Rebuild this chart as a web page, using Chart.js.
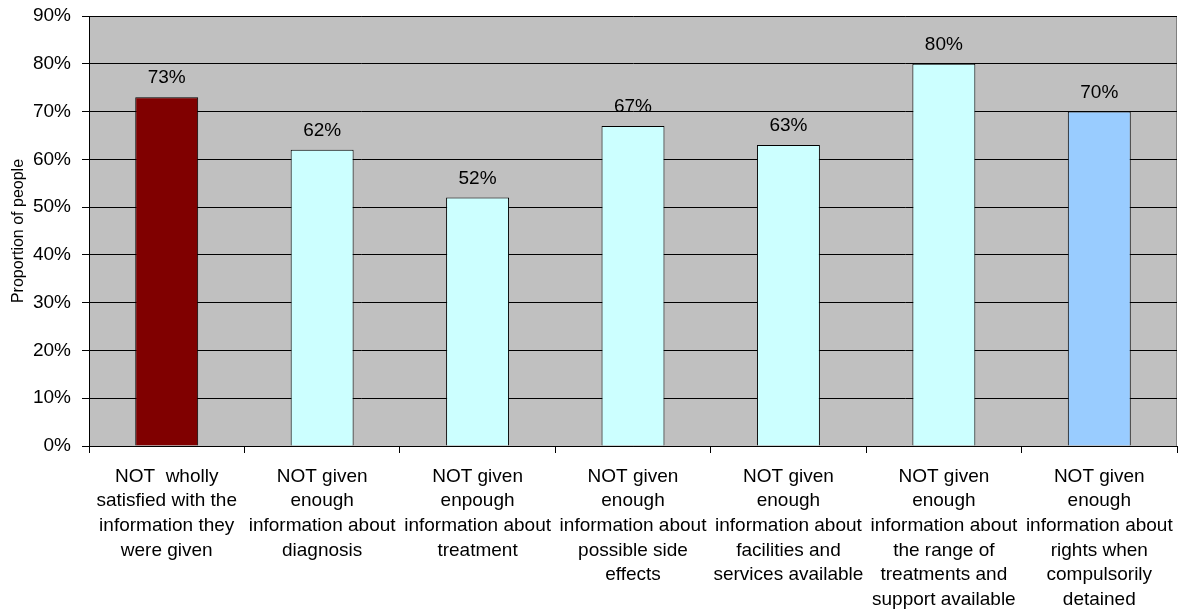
<!DOCTYPE html>
<html>
<head>
<meta charset="utf-8">
<script src="https://cdn.jsdelivr.net/npm/chart.js@4/dist/chart.umd.min.js"></script>
<style>
  html, body { margin: 0; padding: 0; background: #fff; }
  #wrap { width: 1192px; height: 614px; }
</style>
</head>
<body>
<div id="wrap"><canvas id="chartInfo" width="1192" height="614"></canvas></div>
<script>
  // chart data
  const categories = [
    ["NOT  wholly", "satisfied with the", "information they", "were given"],
    ["NOT given", "enough", "information about", "diagnosis"],
    ["NOT given", "enpough", "information about", "treatment"],
    ["NOT given", "enough", "information about", "possible side", "effects"],
    ["NOT given", "enough", "information about", "facilities and", "services available"],
    ["NOT given", "enough", "information about", "the range of", "treatments and", "support available"],
    ["NOT given", "enough", "information about", "rights when", "compulsorily", "detained"]
  ];
  const values = [73, 62, 52, 67, 63, 80, 70];
  const barColors = ["#800000", "#CCFFFF", "#CCFFFF", "#CCFFFF", "#CCFFFF", "#CCFFFF", "#99CCFF"];
  const yTitle = "Proportion of people";

  const fontFamily = "'Liberation Sans', Arial, sans-serif";

  // grey plot background with border
  const plotBackground = {
    id: "plotBackground",
    beforeDraw(chart) {
      const { ctx, chartArea: a } = chart;
      ctx.save();
      ctx.fillStyle = "#C0C0C0";
      ctx.fillRect(a.left, a.top, a.right - a.left, a.bottom - a.top);
      ctx.strokeStyle = "#808080";
      ctx.lineWidth = 1;
      ctx.strokeRect(a.left + 0.5, a.top + 0.5, a.right - a.left - 1, a.bottom - a.top);
      ctx.restore();
    }
  };

  // value labels above bars
  const valueLabels = {
    id: "valueLabels",
    afterDatasetsDraw(chart) {
      const { ctx } = chart;
      const meta = chart.getDatasetMeta(0);
      ctx.save();
      ctx.font = "19px " + fontFamily;
      ctx.fillStyle = "#000";
      ctx.textAlign = "center";
      ctx.textBaseline = "middle";
      meta.data.forEach((bar, i) => {
        ctx.fillText(values[i] + "%", bar.x, bar.y - 19);
      });
      ctx.restore();
    }
  };

  new Chart(document.getElementById("chartInfo"), {
    type: "bar",
    data: {
      labels: categories,
      datasets: [{
        data: values,
        backgroundColor: barColors,
        borderColor: "#000",
        borderWidth: 1,
        borderSkipped: "bottom",
        barPercentage: 0.405,
        categoryPercentage: 1
      }]
    },
    options: {
      responsive: false,
      animation: false,
      devicePixelRatio: 1,
      layout: { padding: { top: 16, right: 15, left: 0, bottom: 0 } },
      plugins: {
        legend: { display: false },
        tooltip: { enabled: false }
      },
      scales: {
        x: {
          offset: true,
          grid: {
            offset: true,
            drawOnChartArea: false,
            drawTicks: true,
            tickLength: 7,
            color: "#000"
          },
          border: { display: true, color: "#000" },
          ticks: {
            color: "#000",
            padding: 11,
            maxRotation: 0,
            autoSkip: false,
            font: { family: fontFamily, size: 19, lineHeight: 1.3 }
          },
          afterFit(scale) { scale.height = 168; }
        },
        y: {
          min: 0,
          max: 90,
          ticks: {
            stepSize: 10,
            color: "#000",
            padding: 11,
            font: { family: fontFamily, size: 19 },
            callback: (v) => v + "%"
          },
          grid: { color: "#000", tickLength: 7 },
          border: { display: true, color: "#000" },
          title: {
            display: true,
            text: yTitle,
            color: "#000",
            padding: { top: 9, bottom: 0 },
            font: { family: fontFamily, size: 16 }
          },
          afterFit(scale) {
            scale.width = 89;
            scale.paddingTop = 0;
          }
        }
      }
    },
    plugins: [plotBackground, valueLabels]
  });
</script>
</body>
</html>
